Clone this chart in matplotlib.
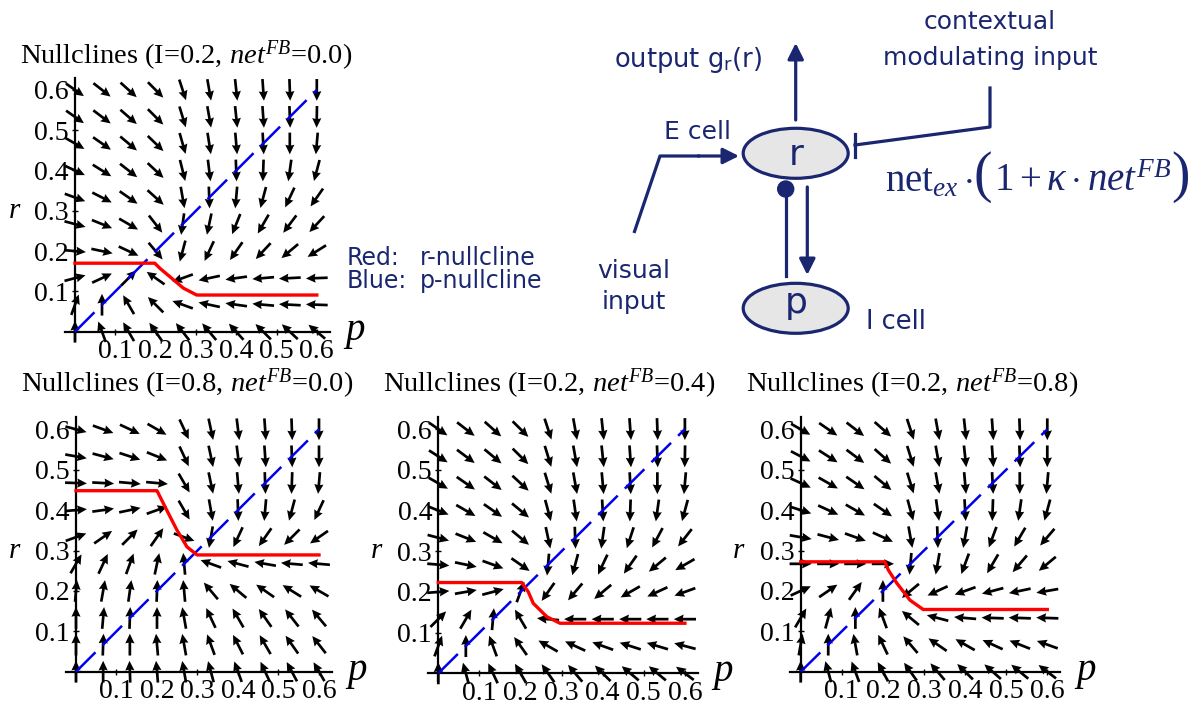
import numpy as np
import matplotlib
matplotlib.use("Agg")
import matplotlib.pyplot as plt
from matplotlib.patches import Ellipse, Circle

# ---- data ----
P_GRID = [0.0, 0.067, 0.133, 0.2, 0.267, 0.333, 0.4, 0.467, 0.533, 0.6]
R_GRID = [0.6, 0.533, 0.467, 0.4, 0.333, 0.267, 0.2, 0.133, 0.067, 0.0]   # rows, top to bottom
TICKS = [0.1, 0.2, 0.3, 0.4, 0.5, 0.6]
TICK_LABELS = ['0.1', '0.2', '0.3', '0.4', '0.5', '0.6']

TITLES = ['Nullclines (I=0.2, $net^{FB}$=0.0)',
          'Nullclines (I=0.8, $net^{FB}$=0.0)',
          'Nullclines (I=0.2, $net^{FB}$=0.4)',
          'Nullclines (I=0.2, $net^{FB}$=0.8)']

# arrow directions (degrees), one row per r value in R_GRID, one column per p value in P_GRID
ANGLES_1 = [
    [-35, -38, -42, -45, -72, -80, -84, -86, -88, -90],
    [-35, -37, -41, -45, -73, -80, -84, -86, -88, -91],
    [-30, -35, -40, -44, -74, -81, -85, -87, -90, -95],
    [-25, -32, -38, -43, -76, -83, -88, -92, -98, -105],
    [-20, -27, -35, -42, -80, -88, -95, -105, -115, -125],
    [-15, -22, -30, -52, -98, -102, -112, -120, -127, -133],
    [-5, -12, -25, -50, -105, -115, -125, -133, -140, -148],
    [15, 25, 45, 145, -160, -168, -172, -175, -177, -178],
    [70, 90, 120, 135, 160, 168, 172, 175, 177, 178],
    [90, 110, 120, 125, 128, 130, 132, 135, 137, 140],
]
ANGLES_2 = [
    [-15, -20, -25, -30, -65, -78, -83, -86, -88, -90],
    [-10, -15, -18, -22, -65, -78, -83, -86, -88, -90],
    [-2, -3, -5, -5, -60, -78, -85, -88, -92, -95],
    [5, 8, 12, 20, -60, -80, -88, -95, -105, -115],
    [20, 35, 45, 55, -20, -100, -115, -125, -135, -145],
    [60, 65, 70, 78, 95, 160, 165, 170, 175, 175],
    [85, 80, 82, 88, 95, 130, 140, 145, 148, 150],
    [90, 85, 88, 90, 100, 115, 120, 125, 128, 130],
    [90, 88, 90, 95, 100, 110, 117, 120, 125, 128],
    [90, 90, 92, 95, 100, 105, 110, 115, 118, 120],
]
ANGLES_3 = [
    [-35, -38, -42, -45, -72, -80, -84, -86, -88, -90],
    [-33, -37, -40, -45, -73, -80, -84, -86, -88, -91],
    [-30, -35, -38, -43, -73, -80, -85, -87, -90, -95],
    [-22, -30, -35, -40, -75, -82, -87, -92, -98, -105],
    [-15, -22, -30, -40, -78, -88, -98, -108, -118, -128],
    [-5, -12, -20, -35, -95, -105, -115, -125, -140, -150],
    [5, 10, 15, 70, -125, -130, -140, -150, -155, -160],
    [45, 60, 85, 120, 175, 180, 180, 180, 180, 180],
    [70, 90, 110, 125, 150, 155, 160, 162, 163, 165],
    [90, 105, 115, 120, 125, 130, 135, 140, 140, 143],
]
ANGLES_4 = [
    [-30, -35, -38, -42, -72, -80, -84, -86, -88, -90],
    [-28, -33, -37, -42, -73, -80, -84, -86, -88, -90],
    [-25, -30, -35, -40, -73, -80, -85, -87, -90, -95],
    [-18, -25, -30, -35, -75, -82, -87, -92, -98, -105],
    [-10, -15, -20, -25, -80, -88, -100, -110, -120, -130],
    [0, 0, 0, 0, -95, -100, -110, -120, -130, -140],
    [25, 35, 55, 90, -140, -155, -160, -165, -168, -170],
    [60, 75, 90, 110, 140, 165, 175, 178, 178, 178],
    [80, 90, 100, 115, 130, 145, 150, 155, 158, 160],
    [90, 105, 110, 118, 125, 130, 135, 138, 140, 142],
]

# r-nullcline (red) per panel
RED_P_1 = [0.0, 0.198, 0.211, 0.236, 0.269, 0.302, 0.6]
RED_R_1 = [0.170, 0.170, 0.157, 0.136, 0.108, 0.091, 0.091]
RED_P_2 = [0.0, 0.2, 0.224, 0.249, 0.274, 0.299, 0.6]
RED_R_2 = [0.448, 0.448, 0.40, 0.351, 0.309, 0.289, 0.289]
RED_P_3 = [0.0, 0.203, 0.219, 0.231, 0.264, 0.296, 0.6]
RED_R_3 = [0.223, 0.223, 0.200, 0.172, 0.139, 0.123, 0.123]
RED_P_4 = [0.0, 0.205, 0.213, 0.234, 0.266, 0.298, 0.6]
RED_R_4 = [0.272, 0.272, 0.252, 0.219, 0.177, 0.154, 0.154]
# p-nullcline (blue)
BLUE_P = [0.0, 0.6]
BLUE_R = [0.0, 0.6]

# ---- layout (pixels) ----
W, H = 1191, 709
NAVY = '#1a2670'
ARROW_LEN = 0.054

plt.rcParams['mathtext.fontset'] = 'custom'
plt.rcParams['mathtext.rm'] = 'Liberation Serif'
plt.rcParams['mathtext.it'] = 'Liberation Serif:italic'
plt.rcParams['mathtext.bf'] = 'Liberation Serif:bold'
SERIF = 'Liberation Serif'
SANS = 'DejaVu Sans'

fig = plt.figure(figsize=(W / 100, H / 100), dpi=100)


def fx(x):
    return x / W


def fy(y):
    return 1 - y / H


# overlay axes in pixel coordinates for the diagram and free text
ov = fig.add_axes([0, 0, 1, 1])
ov.set_xlim(0, W)
ov.set_ylim(H, 0)
ov.axis('off')

# origin pixel (p=0, r=0) and pixels per unit, per panel
PANELS = [
    (75.0, 331.7, 403, 403, ANGLES_1, RED_P_1, RED_R_1),
    (76.0, 671.7, 405, 404, ANGLES_2, RED_P_2, RED_R_2),
    (438.3, 673.3, 411, 407, ANGLES_3, RED_P_3, RED_R_3),
    (800.7, 671.7, 411, 404, ANGLES_4, RED_P_4, RED_R_4),
]
LO, HI = -0.05, 0.65

for k, (x0, y0, sx, sy, ang, rp, rr) in enumerate(PANELS):
    left = x0 + LO * sx
    bottom = y0 - LO * sy
    ax = fig.add_axes([fx(left), fy(bottom), (HI - LO) * sx / W, (HI - LO) * sy / H])
    ax.set_xlim(LO, HI)
    ax.set_ylim(LO, HI)
    ax.patch.set_alpha(0)

    P, R = np.meshgrid(P_GRID, R_GRID)
    a = np.radians(np.array(ang, dtype=float))
    U = ARROW_LEN * np.cos(a)
    V = ARROW_LEN * np.sin(a)
    ax.quiver(P, R, U, V, angles='xy', scale_units='xy', scale=1, pivot='middle',
              color='black', width=0.0095, headwidth=3.4, headlength=3.6,
              headaxislength=3.3, zorder=2)

    ax.plot(BLUE_P, BLUE_R, color='#0000ee', lw=1.8, dashes=(11, 4), zorder=3)
    ax.plot(rp, rr, color='#ff0000', lw=2.4, zorder=4, solid_joinstyle='round')

    for s in ['top', 'right']:
        ax.spines[s].set_visible(False)
    ax.spines['left'].set_position(('data', 0))
    ax.spines['bottom'].set_position(('data', 0))
    ax.spines['left'].set_bounds(-0.02, 0.63)
    ax.spines['bottom'].set_bounds(-0.025, 0.632)
    ax.spines['left'].set_linewidth(1.6)
    ax.spines['bottom'].set_linewidth(1.6)

    ax.set_xticks(TICKS)
    ax.set_xticklabels(TICK_LABELS, fontfamily=SERIF, fontsize=20)
    ax.set_yticks(TICKS)
    ax.set_yticklabels(TICK_LABELS, fontfamily=SERIF, fontsize=20)
    ax.tick_params(axis='both', direction='inout', length=5, width=1)
    ax.tick_params(axis='x', pad=3)
    ax.tick_params(axis='y', pad=2)

    ax.text(-0.165, 0.3, 'r', fontfamily=SERIF, style='italic', fontsize=21,
            ha='left', va='center', clip_on=False)
    ax.text(0.67, -0.02, 'p', fontfamily=SERIF, style='italic', fontsize=28,
            ha='left', va='baseline', clip_on=False)

    fig.text(fx(x0 + 111), fy(64 if k == 0 else 392), TITLES[k], fontfamily=SERIF,
             fontsize=20.5, ha='center', va='baseline')

# legend text
ov.text(347, 265, 'Red:', fontfamily=SANS, fontsize=17, color=NAVY, va='baseline')
ov.text(420, 265, 'r-nullcline', fontfamily=SANS, fontsize=17, color=NAVY, va='baseline')
ov.text(347, 288, 'Blue:', fontfamily=SANS, fontsize=17, color=NAVY, va='baseline')
ov.text(420, 288, 'p-nullcline', fontfamily=SANS, fontsize=17, color=NAVY, va='baseline')

# ---- circuit diagram ----
LW = 2.3
ov.add_patch(Ellipse((795.7, 153.3), 105, 50, facecolor='#e6e6e6', edgecolor=NAVY, lw=LW, zorder=3))
ov.add_patch(Ellipse((795.7, 308.3), 105, 50, facecolor='#e6e6e6', edgecolor=NAVY, lw=LW, zorder=3))
ov.text(795.7, 155, 'r', fontfamily=SANS, fontsize=26, color=NAVY, ha='center', va='center', zorder=4)
ov.text(795.7, 303, 'p', fontfamily=SANS, fontsize=26, color=NAVY, ha='center', va='center', zorder=4)

arrow_kw = dict(arrowstyle='-|>', color=NAVY, lw=LW, mutation_scale=24, shrinkA=0, shrinkB=0)
# output
ov.annotate('', xy=(795.7, 43), xytext=(795.7, 120), arrowprops=arrow_kw)
ov.text(688, 60, 'output g$_\\mathregular{r}$(r)', fontfamily=SANS, fontsize=18.5, color=NAVY,
        ha='center', va='center')
# visual input
ov.plot([634, 660, 700], [233, 156, 156], color=NAVY, lw=LW, solid_capstyle='butt')
ov.annotate('', xy=(739, 156), xytext=(698, 156), arrowprops=arrow_kw)
ov.text(697, 132, 'E cell', fontfamily=SANS, fontsize=18, color=NAVY, ha='center', va='center')
ov.text(634, 271, 'visual', fontfamily=SANS, fontsize=18, color=NAVY, ha='center', va='center')
ov.text(634, 302, 'input', fontfamily=SANS, fontsize=18, color=NAVY, ha='center', va='center')
# r -> p and p -o r
ov.add_patch(Circle((785.7, 189), 8, color=NAVY, zorder=5))
ov.plot([786, 786], [189, 276], color=NAVY, lw=LW)
ov.annotate('', xy=(807.3, 275), xytext=(807.3, 187), arrowprops=arrow_kw)
ov.text(866, 322, 'I cell', fontfamily=SANS, fontsize=18.5, color=NAVY, ha='left', va='center')
# contextual modulating input
ov.plot([990, 990, 855], [88, 127, 145], color=NAVY, lw=LW)
ov.plot([855, 855], [134, 157], color=NAVY, lw=LW)
ov.text(990, 22, 'contextual', fontfamily=SANS, fontsize=18, color=NAVY, ha='center', va='center')
ov.text(990, 58, 'modulating input', fontfamily=SANS, fontsize=18, color=NAVY,
        ha='center', va='center')
# formula with tall parentheses
ov.text(885, 191, r'$\mathrm{net}_{ex}\cdot$', fontsize=28, color=NAVY, ha='left', va='baseline')
ov.text(974, 191, '(', fontfamily=SERIF, fontsize=40, color=NAVY, ha='left', va='baseline')
ov.text(994, 191, r'$1+\kappa\cdot net^{FB}$', fontsize=28, color=NAVY, ha='left', va='baseline')
ov.text(1171, 191, ')', fontfamily=SERIF, fontsize=40, color=NAVY, ha='left', va='baseline')

fig.savefig('out.png', dpi=100)
